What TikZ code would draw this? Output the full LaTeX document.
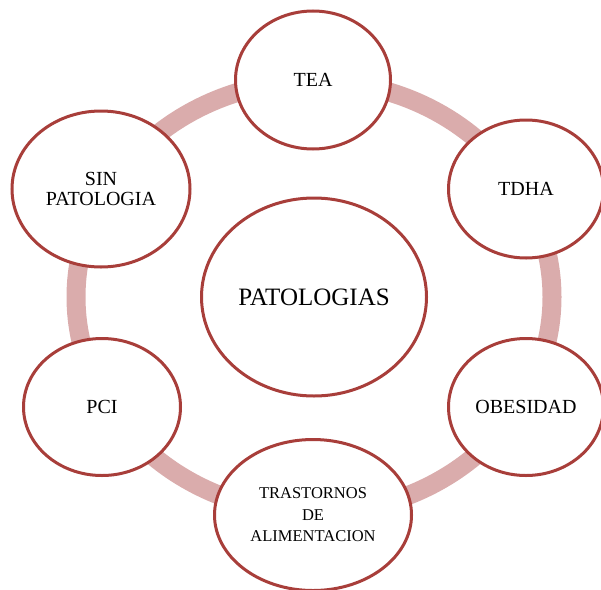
\documentclass[tikz,border=0pt]{standalone}
\usepackage{fontspec}
\setmainfont{Liberation Serif}
\usetikzlibrary{shapes.geometric}
\definecolor{borde}{RGB}{168,62,58}
\definecolor{anillo}{RGB}{218,172,172}

\begin{document}
\begin{tikzpicture}[x=1pt, y=-1pt, main/.style = {draw=borde, ellipse, line width=3pt, fill=white, inner sep=0pt, align=center, font=\fontsize{20}{20}\selectfont}]
            \useasboundingbox (0,0) rectangle (601,589);
            \node[main,minimum width=225pt,minimum height=198pt,font=\fontsize{25}{25}\selectfont] (0) at (314,297) {PATOLOGIAS};

            \draw[anillo, line width=19pt] (0.center) ellipse [x radius=238pt, y radius=216pt];

            \node[main,minimum width=155pt,minimum height=138pt] (1) at (313,80) {TEA};
            \node[main,minimum width=155pt,minimum height=138pt] (2) at (526,189) {TDHA};
            \node[main,minimum width=155pt,minimum height=137pt] (3) at (526,407) {OBESIDAD};
            \node[main,minimum width=197pt,minimum height=151pt,font=\fontsize{16.5}{21.5}\selectfont] (4) at (313,515) {TRASTORNOS\\DE\\ALIMENTACION};
            \node[main,minimum width=157pt,minimum height=137pt] (5) at (102,407) {PCI};
            \node[main,minimum width=178pt,minimum height=156pt] (6) at (101,189) {SIN\\PATOLOGIA};

        \end{tikzpicture}
\end{document}
